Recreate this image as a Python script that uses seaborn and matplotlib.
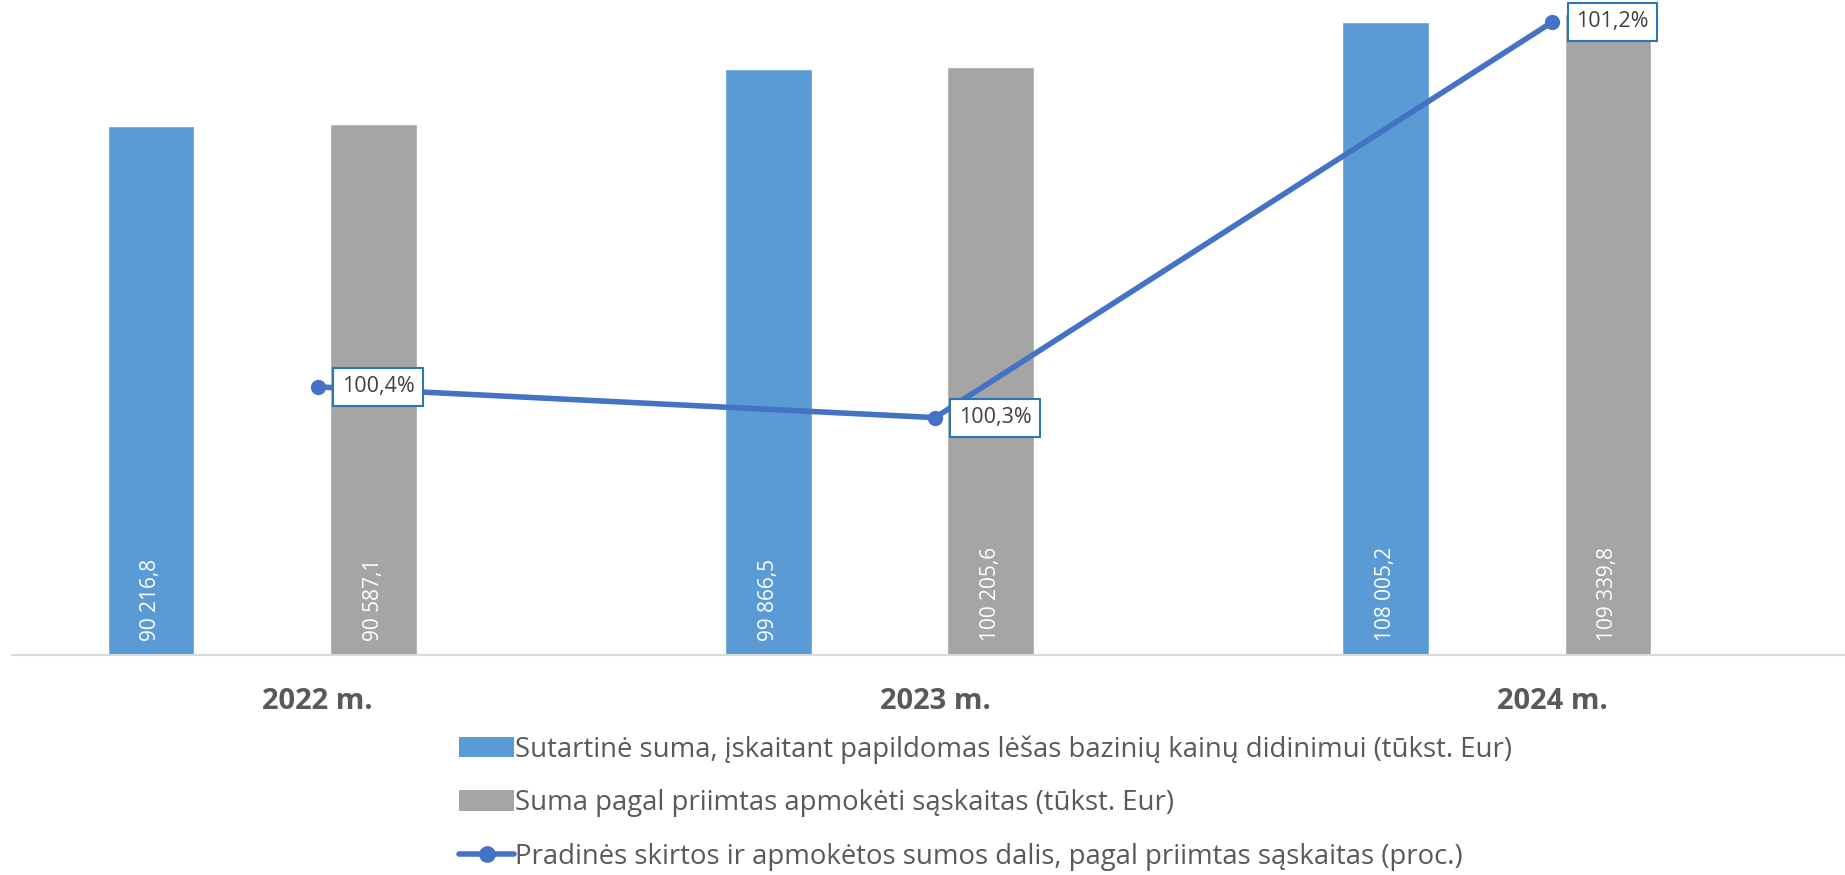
import pandas as pd
import numpy as np
import matplotlib.pyplot as plt
import seaborn as sns
from matplotlib.patches import Patch
from matplotlib.lines import Line2D

metai = ['2022 m.', '2023 m.', '2024 m.']
sutartine_suma = [90216.8, 99866.5, 108005.2]
suma_saskaitos = [90587.1, 100205.6, 109339.8]
dalis_proc = [100.41, 100.34, 101.24]
dalis_tekstas = ['100,4%', '100,3%', '101,2%']
juostu_tekstas = [['90 216,8', '99 866,5', '108 005,2'],
                  ['90 587,1', '100 205,6', '109 339,8']]
serijos = ['Sutartinė suma, įskaitant papildomas lėšas bazinių kainų didinimui (tūkst. Eur)',
           'Suma pagal priimtas apmokėti sąskaitas (tūkst. Eur)',
           'Pradinės skirtos ir apmokėtos sumos dalis, pagal priimtas sąskaitas (proc.)']

MELYNA = '#5B9BD5'
PILKA = '#A5A5A5'
LINIJA = '#4472C4'
TEKSTAS = '#595959'

sns.set_theme(style='white')
plt.rcParams['font.family'] = ['Open Sans', 'DejaVu Sans']

df = pd.DataFrame({
    'metai': metai * 2,
    'reiksme': sutartine_suma + suma_saskaitos,
    'serija': [serijos[0]] * 3 + [serijos[1]] * 3,
})

fig = plt.figure(figsize=(18.45, 8.75), dpi=100)
ax = fig.add_axes([12 / 1845, 220 / 875, 1 - 12 / 1845, 655 / 875])

sns.barplot(data=df, x='metai', y='reiksme', hue='serija', palette=[MELYNA, PILKA],
            width=0.72, gap=0.61, saturation=1, legend=False, ax=ax)

# reiksmes juostu apacioje, pasuktos
for patches, tekstai in zip(ax.containers, juostu_tekstas):
    for p, t in zip(patches, tekstai):
        ax.annotate(t, (p.get_x() + p.get_width() / 2, 0), xytext=(0, 14),
                    textcoords='offset pixels', rotation=90, ha='center', va='bottom',
                    color='white', fontsize=15)

ax.set_ylim(0, 111700)
ax.set_xlim(-0.405, 2.564)
pos = [i + 0.09 for i in range(len(metai))]
ax.set_xticks(pos, metai)
ax.tick_params(axis='x', length=0, pad=23, labelsize=21, labelcolor=TEKSTAS)
for lbl in ax.get_xticklabels():
    lbl.set_fontweight('bold')
ax.set_yticks([])
ax.set_xlabel('')
ax.set_ylabel('')
for s in ['top', 'left', 'right']:
    ax.spines[s].set_visible(False)
ax.spines['bottom'].set_color('#D9D9D9')
ax.spines['bottom'].set_linewidth(1.5)

# antroji asis - procentai
ax2 = ax.twinx()
sns.lineplot(x=pos, y=dalis_proc, ax=ax2, color=LINIJA, linewidth=4,
             marker='o', markersize=11, markeredgewidth=0)
ax2.set_ylim(99.80, 101.29)
ax2.set_xlim(ax.get_xlim())
ax2.axis('off')
for x, y, t in zip(pos, dalis_proc, dalis_tekstas):
    ax2.annotate(t, (x, y), xytext=(24, 0), textcoords='offset pixels',
                 ha='left', va='center', fontsize=15.5, color='#404040',
                 bbox=dict(boxstyle='square,pad=0.4', fc='white', ec='#2E75B6', lw=1.5))

rankenos = [Patch(facecolor=MELYNA, edgecolor='none'),
            Patch(facecolor=PILKA, edgecolor='none'),
            Line2D([0], [0], color=LINIJA, lw=4, marker='o', markersize=11)]
fig.legend(rankenos, serijos, loc='upper left', bbox_to_anchor=(459 / 1845, 0.160),
           frameon=False, fontsize=19.8, labelcolor=TEKSTAS, handlelength=2.0,
           handleheight=0.75, handletextpad=0.05, labelspacing=0.93,
           borderpad=0, borderaxespad=0)

fig.savefig('out.png', dpi=100)
